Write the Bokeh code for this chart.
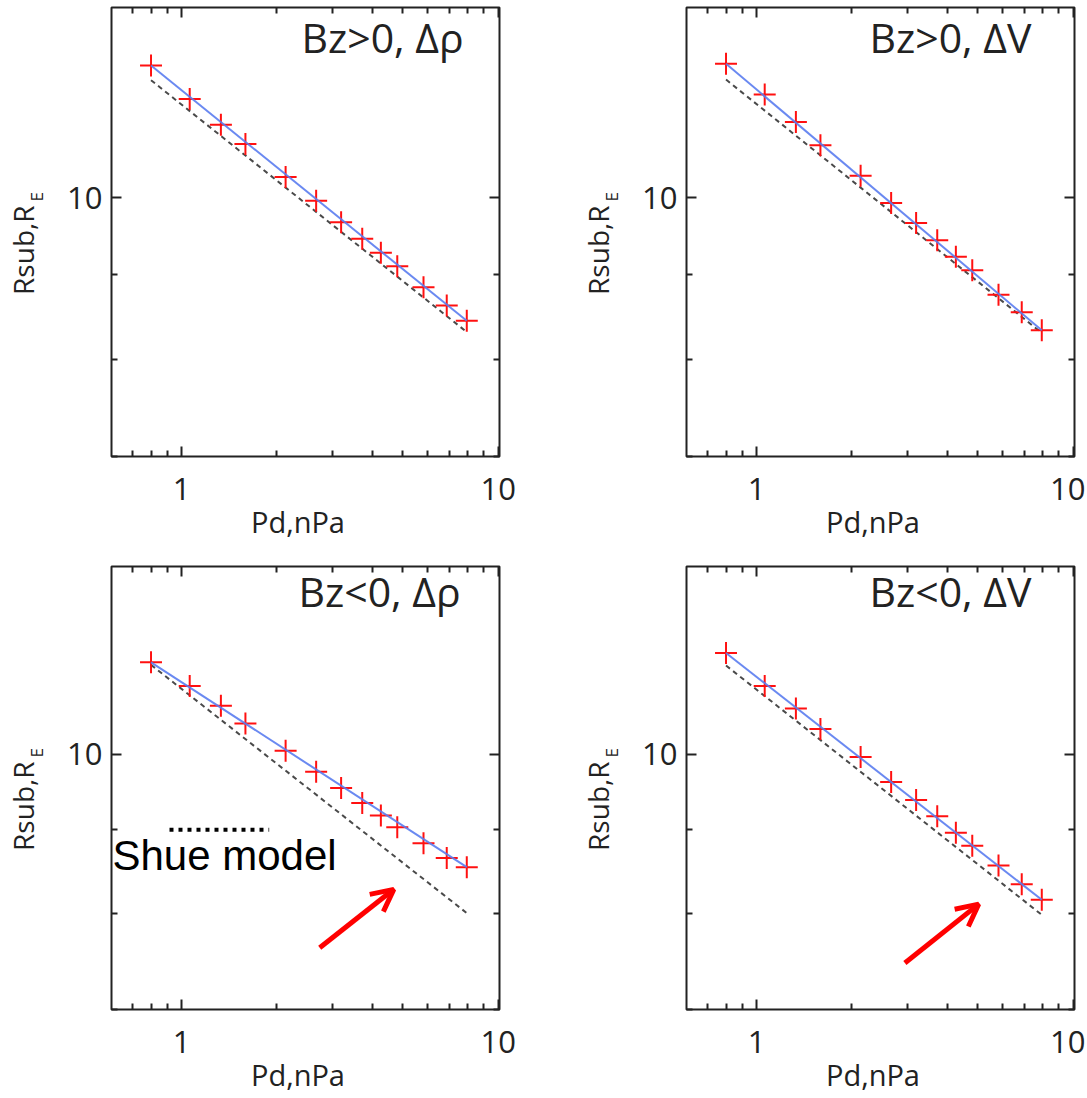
from bokeh.plotting import figure
from bokeh.layouts import column, row
from bokeh.models import Range1d, LogAxis, FixedTicker, Label, Arrow, OpenHead, BasicTickFormatter
from bokeh.embed import file_html
from bokeh.resources import INLINE

# ---------------- data ----------------
pd_nPa = [0.80, 1.06, 1.33, 1.59, 2.13, 2.66, 3.19, 3.72, 4.26, 4.80, 5.81, 6.88, 7.96]

rsub_bzpos_drho = [12.00, 11.46, 11.06, 10.77, 10.29, 9.96, 9.67, 9.45, 9.27, 9.10, 8.84, 8.62, 8.44]
rsub_bzpos_dv   = [12.03, 11.53, 11.10, 10.75, 10.31, 9.93, 9.66, 9.43, 9.22, 9.05, 8.75, 8.54, 8.33]
rsub_bzneg_drho = [11.37, 11.00, 10.70, 10.44, 10.05, 9.76, 9.54, 9.34, 9.18, 9.03, 8.83, 8.65, 8.54]
rsub_bzneg_dv   = [11.52, 11.00, 10.66, 10.36, 9.96, 9.62, 9.38, 9.17, 8.96, 8.80, 8.56, 8.34, 8.16]

# straight fitted (blue) lines, read at their two ends
fit_pd = [0.80, 7.96]
fit_bzpos_drho = [12.00, 8.44]
fit_bzpos_dv   = [12.03, 8.33]
fit_bzneg_drho = [11.37, 8.54]
fit_bzneg_dv   = [11.52, 8.16]

# Shue model (grey dashed) lines, read at their two ends
shue_pd = [0.80, 7.96]
shue_bzpos_drho = [11.76, 8.31]
shue_bzpos_dv   = [11.77, 8.30]
shue_bzneg_drho = [11.33, 8.01]
shue_bzneg_dv   = [11.32, 7.99]

titles = ["Bz>0, \u0394\u03c1", "Bz>0, \u0394V", "Bz<0, \u0394\u03c1", "Bz<0, \u0394V"]
x_label = "Pd,nPa"
y_label_main = "Rsub,R"
y_label_sub = "E"
legend_text = "Shue model"

x_major_ticks = [1, 10]
x_minor_ticks = [0.7, 0.8, 0.9, 2, 3, 4, 5, 6, 7, 8, 9]
y_major_ticks = [10]
y_minor_ticks = [7, 8, 9]

# annotation anchors (data units)
legend_key_x = [0.915, 1.89]
legend_key_y = 9.0
arrow_bl = (2.73, 7.63, 4.68, 8.28)
arrow_br = (2.94, 7.47, 5.03, 8.11)

FONT = "Open Sans"
INK = "#222222"
NB = "\u00a0"


def style_axis(ax, ticker):
    ax.ticker = ticker
    ax.formatter = BasicTickFormatter()
    ax.axis_line_color = None
    ax.major_tick_in = 10
    ax.major_tick_out = 0
    ax.minor_tick_in = 6
    ax.minor_tick_out = 0
    ax.major_tick_line_color = INK
    ax.minor_tick_line_color = INK
    ax.major_tick_line_width = 2
    ax.minor_tick_line_width = 2
    ax.major_label_text_font = FONT
    ax.major_label_text_font_size = "31px"
    ax.major_label_text_color = INK
    ax.axis_label_text_font = FONT
    ax.axis_label_text_font_style = "normal"
    ax.axis_label_text_color = INK


def hide_labels(ax):
    ax.major_label_text_font_size = "0px"
    ax.major_label_text_alpha = 0
    ax.major_label_standoff = 0


def make_panel(title, rsub, fit, shue, col, rowi, title_x):
    w = 575 if col == 0 else 510
    h = 561 if rowi == 0 else 535
    p = figure(width=w, height=h, x_axis_type="log", y_axis_type="log",
               x_range=Range1d(0.6, 10.1), y_range=Range1d(7, 13),
               output_backend="svg", toolbar_location=None,
               min_border_left=111, min_border_right=(76 if col == 0 else 11),
               min_border_top=(7 if rowi == 0 else 5),
               min_border_bottom=(105 if rowi == 0 else 82))
    p.grid.visible = False
    p.outline_line_color = INK
    p.outline_line_width = 2
    p.background_fill_color = "white"
    p.border_fill_color = "white"

    xt = FixedTicker(ticks=x_major_ticks, minor_ticks=x_minor_ticks)
    yt = FixedTicker(ticks=y_major_ticks, minor_ticks=y_minor_ticks)
    top_ax = LogAxis()
    right_ax = LogAxis()
    outer_left = LogAxis()
    p.add_layout(top_ax, "above")
    p.add_layout(right_ax, "right")
    p.add_layout(outer_left, "left")

    bottom_ax = p.below[0]
    inner_left = p.left[0]
    for ax in (bottom_ax, top_ax):
        style_axis(ax, xt)
    for ax in (inner_left, right_ax, outer_left):
        style_axis(ax, yt)
    hide_labels(top_ax)
    hide_labels(right_ax)
    hide_labels(outer_left)
    outer_left.major_tick_in = 0
    outer_left.minor_tick_in = 0

    bottom_ax.major_label_standoff = 21
    bottom_ax.axis_label = x_label + NB * 2
    bottom_ax.axis_label_text_font_size = "29px"
    bottom_ax.axis_label_standoff = -1

    inner_left.major_label_standoff = 9
    inner_left.axis_label = NB * 16 + y_label_sub
    inner_left.axis_label_text_font_size = "17px"
    inner_left.axis_label_standoff = 16

    outer_left.axis_label = y_label_main + NB * 5
    outer_left.axis_label_text_font_size = "28px"
    outer_left.axis_label_standoff = -19

    p.line(shue_pd, shue, line_color="#4a4a4a", line_width=2, line_dash="5 4")
    p.scatter(pd_nPa, rsub, marker="cross", size=22, line_color="#ff1010", line_width=2)
    p.line(fit_pd, fit, line_color="#5a7cf0", line_width=2, line_alpha=0.9)

    p.add_layout(Label(x=title_x, y=(449 if rowi == 0 else 448) - 57, x_units="screen", y_units="screen",
                       text=title, text_font=FONT, text_font_size="41px", text_color=INK))
    return p


p1 = make_panel(titles[0], rsub_bzpos_drho, fit_bzpos_drho, shue_bzpos_drho, 0, 0, 190)
p2 = make_panel(titles[1], rsub_bzpos_dv, fit_bzpos_dv, shue_bzpos_dv, 1, 0, 183)
p3 = make_panel(titles[2], rsub_bzneg_drho, fit_bzneg_drho, shue_bzneg_drho, 0, 1, 187)
p4 = make_panel(titles[3], rsub_bzneg_dv, fit_bzneg_dv, shue_bzneg_dv, 1, 1, 183)

# legend-like key for the Shue model in the lower-left panel
p3.line(legend_key_x, [legend_key_y, legend_key_y], line_color="black", line_width=4, line_dash="4 5")
p3.add_layout(Label(x=1, y=131, x_units="screen", y_units="screen", text=legend_text,
                    text_font="Liberation Sans", text_font_size="42px", text_color="black"))

for p, a in ((p3, arrow_bl), (p4, arrow_br)):
    p.add_layout(Arrow(x_start=a[0], y_start=a[1], x_end=a[2], y_end=a[3],
                       line_color="#ff0000", line_width=5,
                       end=OpenHead(size=22, line_color="#ff0000", line_width=5)))

layout = column(row(p1, p2), row(p3, p4))
open("out.html", "w").write(file_html(layout, INLINE))
